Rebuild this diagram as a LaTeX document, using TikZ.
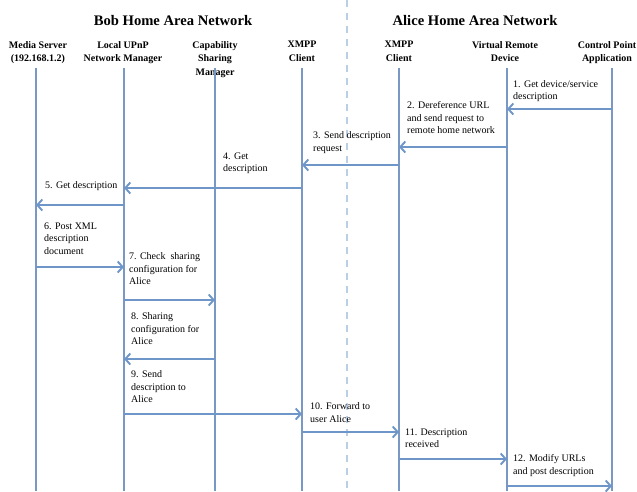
\documentclass[tikz,border=0pt]{standalone}
\usepackage{fontspec}
\setmainfont{Liberation Serif}
\usetikzlibrary{arrows.meta}
\definecolor{lifec}{RGB}{122,152,196}
\definecolor{arrc}{RGB}{110,150,200}
\definecolor{sepc}{RGB}{186,206,230}
\begin{document}
\begin{tikzpicture}[x=1pt,y=-1pt,
  titlebox/.style={font=\fontsize{14.6}{18}\selectfont\bfseries, inner sep=0},
  headbox/.style={font=\fontsize{10}{13.8}\selectfont\bfseries, align=center, inner sep=0, anchor=north},
  lblbox/.style={font=\fontsize{10}{12.5}\selectfont, align=left, inner sep=0, anchor=north west},
  lifeline/.style={draw=lifec, line width=1.3pt},
  msgarrow/.style={draw=arrc, line width=1.6pt, -{Straight Barb[length=5pt,width=11pt,line width=1.9pt]}},
  sepline/.style={draw=sepc, line width=2.5pt, dash pattern=on 7pt off 6pt}]
\useasboundingbox (0,0) rectangle (637,491);
\fill[white] (0,0) rectangle (637,491);

% separator
\coordinate (sepT) at (347,0);
\coordinate (sepB) at (347,491);
\draw[sepline] (sepT) -- (sepB);

% titles
\node[titlebox] (bobt) at (173,21) {Bob Home Area Network};
\node[titlebox] (alicet) at (475,21) {Alice Home Area Network};

% headers
\node[headbox] (ms) at (38,41) {Media Server\\(192.168.1.2)};
\node[headbox] (lu) at (123,41) {Local UPnP\\Network Manager};
\node[headbox] (cs) at (215,41) {Capability\\Sharing\\Manager};
\node[headbox] (xb) at (302,41) {XMPP\\Client};
\node[headbox] (xa) at (399,41) {XMPP\\Client};
\node[headbox] (vr) at (505,41) {Virtual Remote\\Device};
\node[headbox] (cp) at (607,41) {Control Point\\Application};

% lifelines
\coordinate (msT) at (36,68);  \coordinate (msB) at (36,491);
\coordinate (luT) at (124,68); \coordinate (luB) at (124,491);
\coordinate (csT) at (215,68); \coordinate (csB) at (215,491);
\coordinate (xbT) at (302,68); \coordinate (xbB) at (302,491);
\coordinate (xaT) at (399,68); \coordinate (xaB) at (399,491);
\coordinate (vrT) at (507,68); \coordinate (vrB) at (507,491);
\coordinate (cpT) at (612,68); \coordinate (cpB) at (612,491);
\foreach \l in {ms,lu,cs,xb,xa,vr,cp}{\draw[lifeline] (\l T) -- (\l B);}

% messages
\draw[msgarrow] (cpT |- 0,109) -- (vrT |- 0,109);
\draw[msgarrow] (vrT |- 0,147) -- (xaT |- 0,147);
\draw[msgarrow] (xaT |- 0,165) -- (xbT |- 0,165);
\draw[msgarrow] (xbT |- 0,188) -- (luT |- 0,188);
\draw[msgarrow] (luT |- 0,205) -- (msT |- 0,205);
\draw[msgarrow] (msT |- 0,267) -- (luT |- 0,267);
\draw[msgarrow] (luT |- 0,300) -- (csT |- 0,300);
\draw[msgarrow] (csT |- 0,359) -- (luT |- 0,359);
\draw[msgarrow] (luT |- 0,414) -- (xbT |- 0,414);
\draw[msgarrow] (xbT |- 0,432) -- (xaT |- 0,432);
\draw[msgarrow] (xaT |- 0,459) -- (vrT |- 0,459);
\draw[msgarrow] (vrT |- 0,486) -- (cpT |- 0,486);

% labels
\node[lblbox] (l1) at (513,80) {1. Get device/service\\description};
\node[lblbox] (l2) at (407,101.5) {2. Dereference URL\\and send request to\\remote home network};
\node[lblbox] (l3) at (313,131.5) {3. Send description\\request};
\node[lblbox] (l4) at (223,152.5) {4. Get\\description};
\node[lblbox] (l5) at (45,181.5) {5. Get description};
\node[lblbox] (l6) at (44,222.5) {6. Post XML\\description\\document};
\node[lblbox] (l7) at (129,252.5) {7. Check~ sharing\\configuration for\\Alice};
\node[lblbox] (l8) at (131,312.5) {8. Sharing\\configuration for\\Alice};
\node[lblbox] (l9) at (131,370.5) {9. Send\\description to\\Alice};
\node[lblbox] (l10) at (310,402.5) {10. Forward to\\user Alice};
\node[lblbox] (l11) at (405,428.5) {11. Description\\received};
\node[lblbox] (l12) at (513,454.5) {12. Modify URLs\\and post description};
\end{tikzpicture}
\end{document}
